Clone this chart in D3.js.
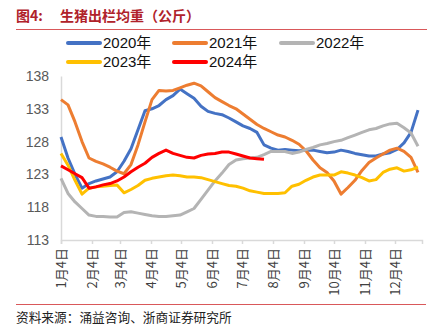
<!DOCTYPE html>
<html lang="zh">
    <head>
        <meta charset="utf-8">
        <title>生猪出栏均重</title>
        <script type="text/javascript" src="https://cdnjs.cloudflare.com/ajax/libs/d3/7.8.5/d3.min.js"></script>
        <style type="text/css">
            body { margin: 0; background: #fff; }
        </style>
    </head>
    <body>
        <script type="text/javascript">
            var w = 439;
            var h = 335;

            // weekly values, first week on 1月4日
            var years = ["2020年", "2021年", "2022年", "2023年", "2024年"];
            var colors = ["#4472C4", "#ED7D31", "#B4B4B4", "#FFC000", "#FF0000"];

            var y2020 = [128.7, 125.5, 123.0, 120.9, 121.6, 122.0, 122.3, 122.6, 123.4, 125.0,
                         126.9, 129.8, 132.7, 133.0, 133.5, 134.4, 135.0, 136.0, 135.3, 134.6,
                         133.4, 132.6, 132.3, 132.1, 131.6, 131.0, 130.4, 130.0, 129.4, 127.5,
                         127.0, 126.7, 126.8, 126.7, 126.6, 126.7, 126.7, 126.5, 126.3, 126.4,
                         126.7, 126.5, 126.2, 126.0, 125.8, 125.8, 126.1, 126.3, 126.8, 127.8,
                         129.4, 132.8];
            var y2021 = [134.4, 133.6, 131.0, 128.0, 125.5, 125.0, 124.6, 124.1, 123.5, 123.1,
                         124.5, 127.5, 131.0, 134.4, 135.8, 135.7, 135.8, 136.2, 136.6, 136.9,
                         136.5, 135.6, 134.7, 134.1, 133.5, 133.0, 132.2, 131.4, 130.6, 130.0,
                         129.5, 129.0, 128.7, 128.2, 127.6, 126.6, 125.2, 124.0, 123.3, 122.0,
                         120.0, 121.0, 122.1, 123.6, 124.8, 125.5, 126.1, 126.7, 127.0, 126.5,
                         125.6, 123.3];
            var y2022 = [122.4, 120.1, 118.8, 117.8, 116.8, 116.6, 116.6, 116.5, 116.5, 117.2,
                         117.3, 117.1, 116.9, 116.7, 116.6, 116.6, 116.7, 116.8, 117.3, 117.8,
                         119.2, 120.6, 122.0, 123.2, 124.5, 125.2, 125.4, 125.5, 125.6, 126.0,
                         126.5, 126.5, 126.5, 126.2, 126.4, 126.8, 127.1, 127.5, 127.7, 128.0,
                         128.2, 128.6, 129.0, 129.4, 129.8, 130.0, 130.4, 130.7, 130.8, 130.1,
                         129.3, 127.3];
            var y2023 = [126.2, 124.4, 122.1, 120.0, 120.9, 121.1, 121.2, 121.3, 121.4, 120.2,
                         120.7, 121.3, 122.1, 122.4, 122.6, 122.8, 122.9, 122.8, 122.6, 122.6,
                         122.5, 122.2, 121.9, 121.6, 121.3, 121.2, 120.9, 120.5, 120.3, 120.1,
                         120.1, 120.1, 120.2, 121.2, 121.5, 122.1, 122.6, 122.9, 122.9, 122.9,
                         123.4, 123.2, 122.9, 122.5, 122.0, 122.2, 123.3, 123.8, 124.0, 123.5,
                         123.7, 124.1];
            var y2024 = [124.3, 123.7, 123.1, 122.5, 120.9, 121.1, 121.4, 121.6, 122.0, 122.6,
                         123.4, 124.1, 124.7, 125.6, 126.2, 126.7, 126.2, 125.9, 125.6, 125.5,
                         125.9, 126.1, 126.2, 126.4, 126.4, 126.1, 125.8, 125.5, 125.4, 125.3];

            var yTicks = [113, 118, 123, 128, 133, 138];
            var xTickLabels = ["1月4日", "2月4日", "3月4日", "4月4日", "5月4日", "6月4日",
                               "7月4日", "8月4日", "9月4日", "10月4日", "11月4日", "12月4日"];

            var seriesValues = [y2020, y2021, y2022, y2023, y2024];
            var start = new Date(2023, 0, 4);

            var svg = d3.select("body")
                        .append("svg")
                        .attr("width", w)
                        .attr("height", h)
                        .style("font-family", "Arial, 'Liberation Sans', 'Noto Sans CJK SC', sans-serif");

            // title + rules
            svg.append("text")
               .attr("x", 16).attr("y", 21)
               .attr("fill", "#B0222A")
               .style("font-size", "14px")
               .style("font-weight", "bold")
               .style("font-family", "'Noto Sans CJK SC', sans-serif")
               .text("图4:");
            svg.append("text")
               .attr("x", 60).attr("y", 21)
               .attr("fill", "#B0222A")
               .style("font-size", "14px")
               .style("font-weight", "bold")
               .style("font-family", "'Noto Sans CJK SC', sans-serif")
               .text("生猪出栏均重（公斤）");
            svg.append("line")
               .attr("x1", 16).attr("x2", 427).attr("y1", 29.5).attr("y2", 29.5)
               .attr("stroke", "#D9585A").attr("stroke-width", 1);
            svg.append("line")
               .attr("x1", 16).attr("x2", 426).attr("y1", 304.5).attr("y2", 304.5)
               .attr("stroke", "#D9585A").attr("stroke-width", 1);
            svg.append("text")
               .attr("x", 16).attr("y", 322)
               .attr("fill", "#222")
               .style("font-size", "12.7px")
               .style("font-family", "'Noto Sans CJK SC', sans-serif")
               .text("资料来源：涌益咨询、浙商证券研究所");

            var x = d3.scaleTime()
                      .domain([start, new Date(2023, 11, 31)])
                      .range([61, 422]);
            var y = d3.scaleLinear()
                      .domain([113, 138])
                      .range([240, 76]);

            // y axis
            var yAxis = d3.axisLeft(y).tickValues(yTicks).tickSize(0).tickPadding(12);
            var gy = svg.append("g").attr("transform", "translate(61,0)").call(yAxis);
            gy.select(".domain").attr("stroke", "#D9D9D9").attr("stroke-width", 1.5);
            gy.selectAll("text")
              .attr("fill", "#595959")
              .style("font-size", "14px")
              .style("font-family", "Arial, 'Liberation Sans', sans-serif");

            // x axis
            var tickDates = xTickLabels.map(function (d, i) { return new Date(2023, i, 4); });
            var xAxis = d3.axisBottom(x)
                          .tickValues(tickDates)
                          .tickSizeOuter(0)
                          .tickSize(4)
                          .tickFormat(function (d, i) { return xTickLabels[i]; });
            var gx = svg.append("g").attr("transform", "translate(0,240)").call(xAxis);
            gx.select(".domain").attr("stroke", "#D9D9D9").attr("stroke-width", 1.5);
            gx.selectAll(".tick line").attr("stroke", "#D9D9D9").attr("stroke-width", 1.5);
            gx.selectAll("text")
              .attr("fill", "#404040")
              .style("font-size", "13px")
              .style("font-family", "'Noto Sans CJK SC', sans-serif")
              .attr("text-anchor", "end")
              .attr("dy", "0.35em")
              .attr("transform", "translate(0,8) rotate(-90)")
              .attr("x", 0)
              .attr("y", 0);

            // lines
            var line = d3.line()
                         .x(function (d, i) { return x(d3.timeDay.offset(start, 7 * i)); })
                         .y(function (d) { return y(d); });

            svg.selectAll("path.series")
               .data(seriesValues)
               .enter()
               .append("path")
               .attr("class", "series")
               .attr("fill", "none")
               .attr("stroke", function (d, i) { return colors[i]; })
               .attr("stroke-width", 3)
               .attr("stroke-linejoin", "round")
               .attr("d", line);

            // legend
            var legendPos = [[68, 43], [174, 43], [281, 43], [68, 62], [174, 62]];
            var lg = svg.selectAll("g.legend")
                        .data(years)
                        .enter()
                        .append("g")
                        .attr("class", "legend")
                        .attr("transform", function (d, i) {
                            return "translate(" + legendPos[i][0] + "," + legendPos[i][1] + ")";
                        });
            lg.append("line")
              .attr("x1", 0).attr("x2", 32)
              .attr("stroke", function (d, i) { return colors[i]; })
              .attr("stroke-width", 4)
              .attr("stroke-linecap", "round");
            lg.append("text")
              .attr("x", 35)
              .attr("dy", "0.36em")
              .attr("fill", "#111")
              .style("font-size", "15px")
              .text(function (d) { return d; });
        </script>
    </body>
</html>
